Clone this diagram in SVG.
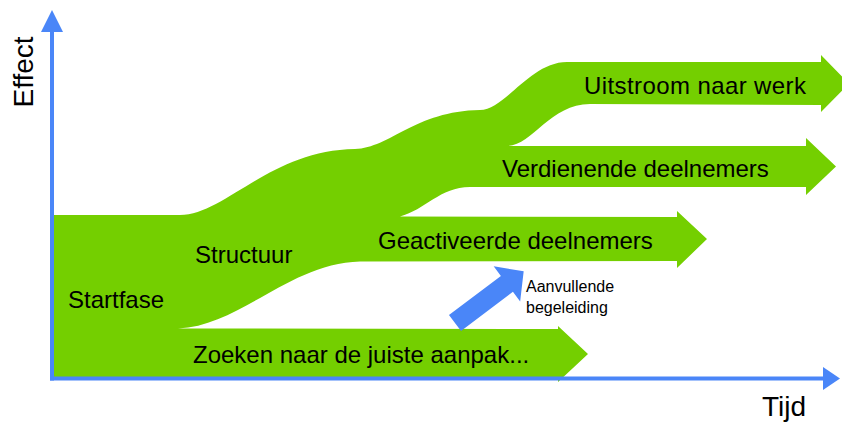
<svg xmlns="http://www.w3.org/2000/svg" width="842" height="424" viewBox="0 0 842 424">
  <style>
    .lbl { font-family: "Liberation Sans", Arial, sans-serif; font-size: 24px; fill: #000; }
    .small { font-family: "Liberation Sans", Arial, sans-serif; font-size: 16px; fill: #000; }
    .axislbl { font-family: "Liberation Sans", Arial, sans-serif; font-size: 28px; fill: #000; }
    .flow { fill: #74CF00; }
    .axis { stroke: #4A86F8; stroke-width: 4; fill: none; }
    .axishead { fill: #4A86F8; }
  </style>
  <rect width="842" height="424" fill="#fff"/>

  <g id="flow">
    <path class="flow" d="M 53,215 L 180,215 C 225,215 270,150 355,149 C 390,148 415,111 480,110 C 505,110 530,62 567,62 L 821,62 L 821,55 L 849,83.5 L 821,112 L 821,105 L 590,104 C 550,104 532,146 507,146 L 806,146 L 806,138 L 836,166.5 L 806,195 L 806,187 L 470,187 C 440,187 425,210 400,216.5 L 677,217 L 677,211 L 707,239 L 677,268 L 677,261 L 360,261.5 C 290,263 240,326 178,328.5 L 558,329 L 558,326 L 588,354 L 558,382 L 558,378 L 53,378 Z"/>
  </g>

  <g id="axes">
    <line class="axis" x1="52" y1="30" x2="52" y2="380.5"/>
    <polygon class="axishead" points="52,10 63,32 41,32"/>
    <line class="axis" x1="50" y1="378.5" x2="824" y2="378.5"/>
    <polygon class="axishead" points="840,378.5 823,367 823,390"/>
  </g>

  <g id="extra-support">
    <path fill="#4A86F8" transform="translate(455,323) rotate(-37)" d="M 0,-10 L 65,-10 L 65,-22 L 86,0 L 65,22 L 65,10 L 0,10 Z"/>
    <text class="small" x="526" y="292">Aanvullende</text>
    <text class="small" x="526" y="313">begeleiding</text>
  </g>

  <g id="labels">
    <text class="lbl" x="68" y="308">Startfase</text>
    <text class="lbl" x="195" y="263">Structuur</text>
    <text class="lbl" x="193" y="363">Zoeken naar de juiste aanpak...</text>
    <text class="lbl" x="378" y="249">Geactiveerde deelnemers</text>
    <text class="lbl" x="502" y="177">Verdienende deelnemers</text>
    <text class="lbl" x="584" y="94" textLength="222">Uitstroom naar werk</text>
  </g>

  <g id="axis-labels">
    <text class="axislbl" transform="translate(33,72) rotate(-90)" text-anchor="middle">Effect</text>
    <text class="axislbl" x="762" y="416">Tijd</text>
  </g>
</svg>
